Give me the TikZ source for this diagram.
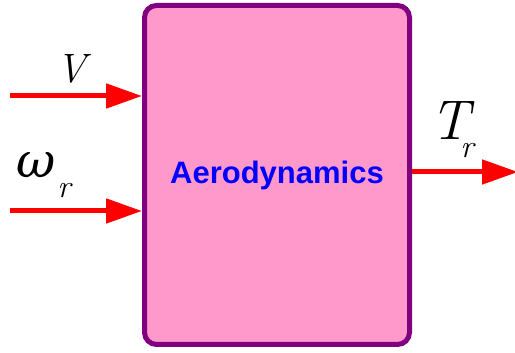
\documentclass[tikz,border=0pt]{standalone}
\usepackage{fontspec}
\usetikzlibrary{arrows.meta}
\newfontfamily\aerofont{Liberation Sans}
\newfontfamily\greekfont{DejaVu Serif}
\definecolor{boxpink}{HTML}{FF99CC}
\definecolor{boxpurple}{HTML}{800080}
\newcommand{\subr}[2]{\kern#1\raisebox{#2}{\fontsize{32}{36}\selectfont r}}

\begin{document}
\begin{tikzpicture}[x=1pt, y=1pt,
    flow/.style={draw=red, line width=5pt, -{Triangle[length=36pt, width=24pt]}},
    sym/.style={inner sep=0pt, font=\itshape\fontsize{56}{60}\selectfont}]

    % 1. Fix the page size
    \useasboundingbox (0,0) rectangle (515,353);

    % 2. The aerodynamics block
    \node[draw=boxpurple, fill=boxpink, line width=5pt, rounded corners=12pt,
          minimum width=265pt, minimum height=339pt, text=blue,
          font=\aerofont\bfseries\fontsize{31}{36}\selectfont] (aero) at (277,178) {Aerodynamics};

    % 3. Inputs on the left, output on the right
    \coordinate (vin) at (10,257);
    \coordinate (win) at (10,142);
    \coordinate (tout) at (518,181);
    \draw[flow] (vin) -- (vin -| aero.west);
    \draw[flow] (win) -- (win -| aero.west);
    \draw[flow] (tout -| aero.east) -- (tout);

    % 4. Signal names
    \node[sym, anchor=base west, font=\itshape\fontsize{41}{46}\selectfont] (vlab) at (56,270) {V};
    \node[sym, anchor=base west] (wlab) at (16,175) {{\greekfont\fontsize{48}{52}\selectfont ω}\subr{2pt}{-20pt}};
    \node[sym, anchor=base west] (tlab) at (430,213) {T\subr{-9pt}{-18pt}};

\end{tikzpicture}
\end{document}
